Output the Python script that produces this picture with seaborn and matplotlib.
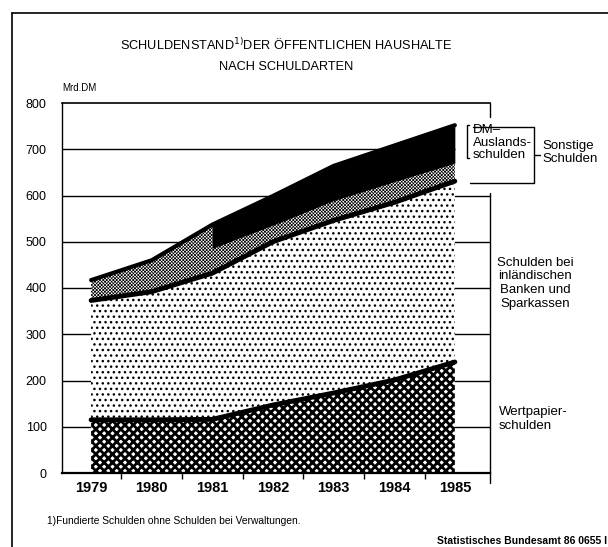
import numpy as np
import matplotlib
matplotlib.use("Agg")
import matplotlib.pyplot as plt
import seaborn as sns

# values in Mrd. DM
years = [1979, 1980, 1981, 1982, 1983, 1984, 1985]
wertpapier = [115, 115, 116, 147, 173, 201, 240]
banken = [258, 277, 316, 353, 373, 384, 391]
sonstige = [44, 68, 54, 36, 43, 45, 39]          # sonstige Schulden ohne DM-Auslandsschulden
dm_ausland = [np.nan, np.nan, 51, 63, 75, 78, 82]
y_ticks = [0, 100, 200, 300, 400, 500, 600, 700, 800]

sns.set_style("white")
plt.rcParams['font.family'] = ['Liberation Sans', 'DejaVu Sans']
plt.rcParams['text.color'] = 'black'
plt.rcParams['xtick.color'] = 'black'
plt.rcParams['ytick.color'] = 'black'

fig = plt.figure(figsize=(6.08, 5.47), dpi=100)
ax = fig.add_axes([62 / 608, 74 / 547, 428 / 608, 370 / 547])

x = np.array(years)
w = np.array(wertpapier, dtype=float)
b = w + np.array(banken)
s = b + np.array(sonstige)
total = s + np.nan_to_num(np.array(dm_ausland))
total_aus = s + np.array(dm_ausland)


def hatched(y1, y2, hatch, hlw):
    with plt.rc_context({'hatch.linewidth': hlw}):
        coll = ax.fill_between(x, y1, y2, facecolor='white', edgecolor='black',
                               hatch=hatch, lw=0, zorder=1)
    if hasattr(coll, 'set_hatch_linewidth'):
        coll.set_hatch_linewidth(hlw)
    return coll


# grid lines behind the areas
for lvl in y_ticks[1:-1]:
    xmax = 1985 if lvl == 700 else 1985.58
    ax.hlines(lvl, 1978.52, xmax, color='black', lw=1.0, zorder=0)

hatched(0, w, 'xxxx', 2.0)
hatched(w, b, '...', 1.0)
hatched(b, total, 'xxxxxxxxxx', 0.5)
ax.fill_between(x, s, total_aus, facecolor='black', edgecolor='black', lw=0, zorder=2)

sns.lineplot(x=years, y=w, ax=ax, color='black', linewidth=3.5, zorder=3)
sns.lineplot(x=years, y=b, ax=ax, color='black', linewidth=3.5, zorder=3)
sns.lineplot(x=years, y=total, ax=ax, color='black', linewidth=3, zorder=3)

ax.set_xlim(1978.52, 1985.58)
ax.set_ylim(0, 800)
ax.set_xticks(years)
ax.set_xticks(np.arange(1979.5, 1985, 1.0), minor=True)
ax.set_yticks(y_ticks)
ax.tick_params(axis='x', which='major', length=0, pad=6, labelsize=10.5)
ax.tick_params(axis='x', which='minor', length=4, width=1, direction='out', color='black', bottom=True)
ax.tick_params(axis='y', length=0, pad=11, labelsize=9)
for lab in ax.get_xticklabels():
    lab.set_fontweight('bold')
ax.set_xlabel('')
ax.set_ylabel('')

for side in ['left', 'top', 'bottom']:
    ax.spines[side].set_visible(True)
    ax.spines[side].set_color('black')
ax.spines['left'].set_linewidth(1.0)
ax.spines['top'].set_linewidth(1.2)
ax.spines['bottom'].set_linewidth(1.6)
ax.spines['right'].set_visible(False)

# right frame line with brackets
kw = dict(color='black', lw=1.0, clip_on=False, zorder=4)
ax.plot([1985.58, 1985.58], [800, 770], **kw)
ax.plot([1985.58, 1985.58], [605, -22], **kw)
ax.plot([1985.24, 1985.20, 1985.20, 1985.24], [752, 752, 681, 681], **kw)
ax.plot([1985.30, 1986.30, 1986.30, 1985.25], [748, 748, 627, 627], **kw)
ax.plot([1986.30, 1986.40], [688, 688], **kw)

ax.text(1985.30, 754, 'DM–\nAuslands-\nschulden', ha='left', va='top', fontsize=9.5,
        linespacing=1.05)
ax.text(1986.44, 692, 'Sonstige\nSchulden', ha='left', va='center', fontsize=9.5,
        linespacing=1.1)
ax.text(1986.33, 410, 'Schulden bei\ninländischen\nBanken und\nSparkassen', ha='center',
        va='center', fontsize=9.5, linespacing=1.2)
ax.text(1985.72, 117, 'Wertpapier-\nschulden', ha='left', va='center', fontsize=9.5,
        linespacing=1.15)

fig.text(286 / 608, 1 - 45 / 547, 'SCHULDENSTAND$^{1)}$DER ÖFFENTLICHEN HAUSHALTE',
         ha='center', va='center', fontsize=9.2)
fig.text(286 / 608, 1 - 67 / 547, 'NACH SCHULDARTEN', ha='center', va='center', fontsize=9.2)
fig.text(62 / 608, 1 - 88 / 547, 'Mrd.DM', ha='left', va='center', fontsize=7)
fig.text(47 / 608, 1 - 521 / 547, '1)Fundierte Schulden ohne Schulden bei Verwaltungen.',
         ha='left', va='center', fontsize=7.4)
fig.text(607 / 608, 1 - 541 / 547, 'Statistisches Bundesamt 86 0655 I', ha='right',
         va='center', fontsize=7.5, fontweight='bold')

# outer frame of the page
fig.add_artist(plt.Line2D([12 / 608, 1.0], [1 - 13 / 547, 1 - 13 / 547], color='black', lw=1.2))
fig.add_artist(plt.Line2D([12 / 608, 12 / 608], [1 - 13 / 547, 0.0], color='black', lw=1.2))

fig.savefig("out.png", dpi=100)
